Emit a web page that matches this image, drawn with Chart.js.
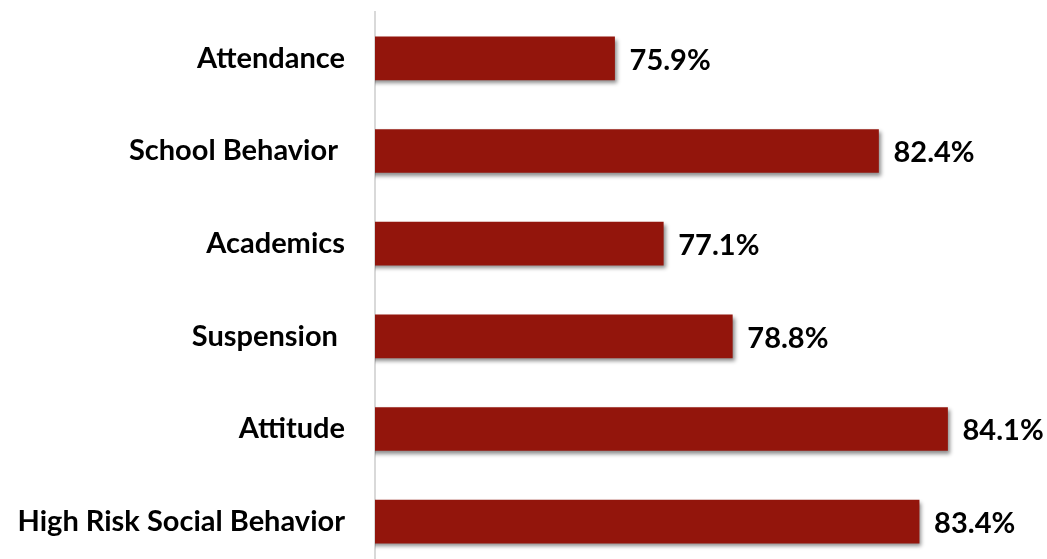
<!DOCTYPE html>
<html>
<head>
<meta charset="utf-8">
<script src="https://cdn.jsdelivr.net/npm/chart.js@4/dist/chart.umd.min.js"></script>
<style>
  html, body { margin: 0; padding: 0; background: #fff; overflow: hidden; }
  #wrap { position: relative; width: 1047px; height: 568px; }
</style>
</head>
<body>
<div id="wrap"><canvas id="myChart"></canvas></div>
<script>
const categories = ["Attendance", "School Behavior ", "Academics", "Suspension ", "Attitude", "High Risk Social Behavior"];
const percents = [75.9, 82.4, 77.1, 78.8, 84.1, 83.4];

const barColor = "#93150c";
const labelFont = { family: "Lato, 'Open Sans', sans-serif", size: 29, weight: "bold" };

// soft drop shadow under the bars
const barShadow = {
  id: "barShadow",
  beforeDatasetDraw(chart) {
    const c = chart.ctx;
    c.save();
    c.shadowColor = "rgba(0,0,0,0.45)";
    c.shadowBlur = 4;
    c.shadowOffsetX = 2;
    c.shadowOffsetY = 3;
  },
  afterDatasetDraw(chart) {
    chart.ctx.restore();
  },
};

// value text at the end of each bar
const valueLabels = {
  id: "valueLabels",
  afterDatasetsDraw(chart) {
    const c = chart.ctx;
    const meta = chart.getDatasetMeta(0);
    c.save();
    c.font = `bold ${labelFont.size}px ${labelFont.family}`;
    c.fillStyle = "#000";
    c.textAlign = "left";
    c.textBaseline = "middle";
    meta.data.forEach((bar, i) => {
      c.fillText(percents[i].toFixed(1) + "%", bar.x + 15, bar.y + 2);
    });
    c.restore();
  },
};

const ctx = document.getElementById("myChart");

new Chart(ctx, {
  type: "bar",
  data: {
    labels: categories,
    datasets: [
      {
        data: percents,
        backgroundColor: barColor,
        borderWidth: 0,
        barThickness: 43,
      },
    ],
  },
  options: {
    indexAxis: "y",
    responsive: true,
    maintainAspectRatio: false,
    animation: false,
    layout: { padding: { top: 12, right: 2, bottom: 0, left: 0 } },
    plugins: {
      legend: { display: false },
      tooltip: { enabled: false },
    },
    scales: {
      x: {
        display: false,
        min: 70,
        max: 86.5,
      },
      y: {
        afterFit(scale) {
          // fixed label column, no extra room above/below the bars
          scale.width = 375;
          scale.paddingTop = 0;
          scale.paddingBottom = 0;
        },
        grid: { drawOnChartArea: false, drawTicks: false },
        border: { color: "#d9d9d9", width: 2 },
        ticks: {
          color: "#000",
          padding: 30,
          font: labelFont,
        },
      },
    },
  },
  plugins: [barShadow, valueLabels],
});
</script>
</body>
</html>
